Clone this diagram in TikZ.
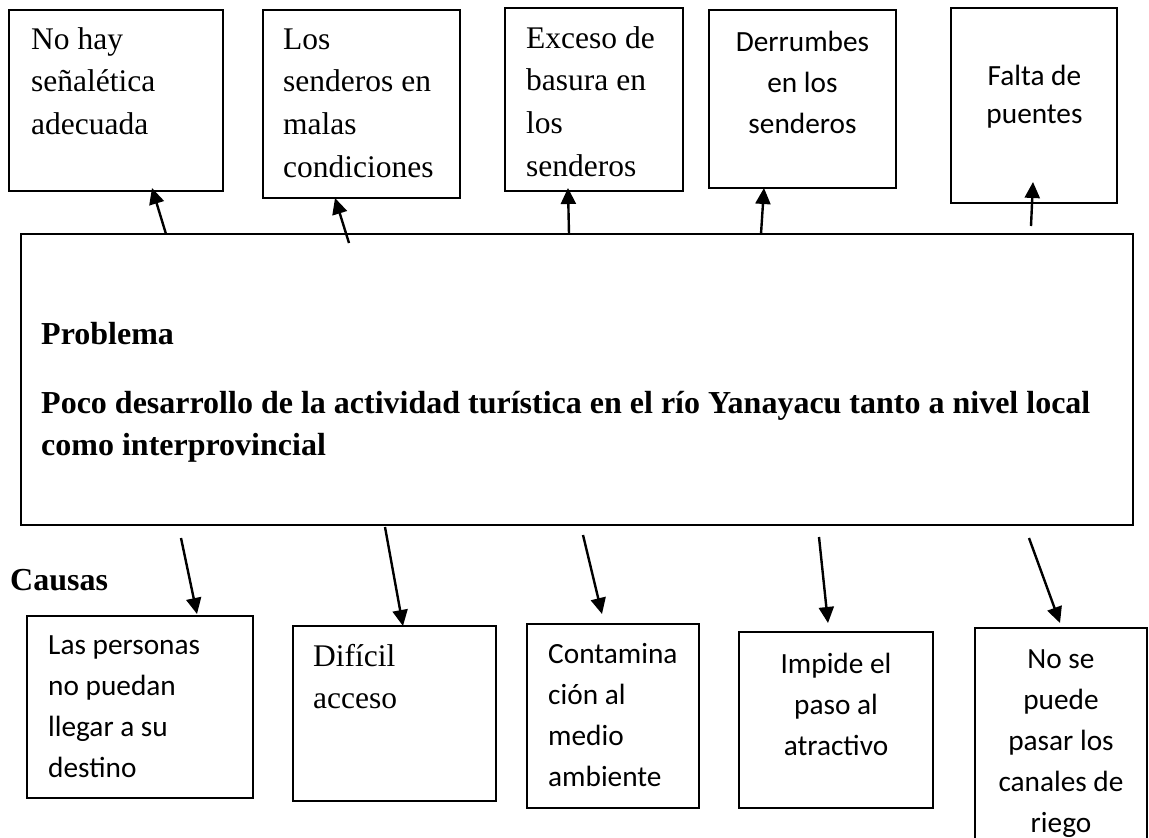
\documentclass[tikz,border=0pt]{standalone}
\usepackage{fontspec}
\setmainfont{Liberation Serif}
\newfontfamily\calib{Carlito}
\usetikzlibrary{arrows.meta}
\begin{document}
\begin{tikzpicture}[x=1pt,y=-1pt,
  box/.style={draw, line width=2pt, inner sep=0pt, outer sep=0pt, anchor=north west},
  thickbox/.style={box, line width=2.6pt},
  arr/.style={line width=2.4pt, -{Triangle[length=16pt,width=15pt]}},
  serifL/.style={inner sep=0pt, anchor=base west, text width=#1, align=flush left, font=\fontsize{31.5}{42.7}\selectfont},
  sansL/.style={inner sep=0pt, anchor=base west, text width=#1, align=flush left, font=\calib\fontsize{29.3}{41.2}\selectfont},
  sansC/.style={inner sep=0pt, anchor=base, text width=#1, align=flush center, font=\calib\fontsize{29.3}{41.2}\selectfont},
  boldL/.style={inner sep=0pt, anchor=base west, text width=#1, align=flush left, font=\bfseries\fontsize{32}{42}\selectfont}
]
\useasboundingbox (0,0) rectangle (1149,838);
\fill[white] (0,0) rectangle (1149,838);
\clip (0,0) rectangle (1149,838);

% top boxes (effects)
\node[box, minimum width=214pt, minimum height=181pt] (t1) at (9,10) {};
\node[box, minimum width=197pt, minimum height=188pt] (t2) at (263,10) {};
\node[box, minimum width=178pt, minimum height=183pt] (t3) at (505,8) {};
\node[thickbox, minimum width=187pt, minimum height=178pt] (t4) at (709,10) {};
\node[thickbox, minimum width=166pt, minimum height=195pt] (t5) at (951,8) {};

\node[serifL=185pt] (t1txt) at (31,49) {No hay\\señalética\\adecuada};
\node[serifL=175pt] (t2txt) at (283,49) {Los\\senderos en\\malas\\condiciones};
\node[serifL=155pt] (t3txt) at (526,48) {Exceso de\\basura en\\los\\senderos};
\node[sansC=180pt] (t4txt) at (802.5,51) {Derrumbes\\en los\\senderos};
\node[sansC=160pt, font=\calib\fontsize{29.3}{38}\selectfont] (t5txt) at (1034.5,85) {Falta de\\puentes};

% main problem box
\node[thickbox, minimum width=1112pt, minimum height=291pt] (main) at (21,234) {};
\node[boldL=300pt] (probtitle) at (41,344) {Problema};
\node[boldL=1085pt] (probtxt) at (41,413) {Poco desarrollo de la actividad turística en el río Yanayacu tanto a nivel local\\como interprovincial};

% causes label
\node[boldL=150pt] (causas) at (10,590) {Causas};

% bottom boxes
\node[box, minimum width=226pt, minimum height=182pt] (b1) at (27,616) {};
\node[box, minimum width=203pt, minimum height=175pt] (b2) at (293,626) {};
\node[box, minimum width=172pt, minimum height=184pt] (b3) at (527,624) {};
\node[thickbox, minimum width=194pt, minimum height=176pt] (b4) at (739,632) {};
\node[thickbox, minimum width=172pt, minimum height=240pt] (b5) at (975,628) {};

\node[sansL=200pt] (b1txt) at (48,654) {Las personas\\no puedan\\llegar a su\\destino};
\node[serifL=170pt] (b2txt) at (313,666) {Difícil\\acceso};
\node[sansL=150pt] (b3txt) at (548,663) {Contamina\\ción al\\medio\\ambiente};
\node[sansC=180pt] (b4txt) at (836,673) {Impide el\\paso al\\atractivo};
\node[sansC=165pt] (b5txt) at (1061,668) {No se\\puede\\pasar los\\canales de\\riego};

% arrow end points
\coordinate (a1s) at (166,234); \coordinate (a1e) at (152,188);
\coordinate (a2s) at (349,243); \coordinate (a2e) at (335,198);
\coordinate (a3s) at (569,234); \coordinate (a3e) at (568,188);
\coordinate (a4s) at (761,234); \coordinate (a4e) at (764,188);
\coordinate (a5s) at (1031,226); \coordinate (a5e) at (1033,182);

\coordinate (c1s) at (181,538); \coordinate (c1e) at (197,614);
\coordinate (c2s) at (385,527); \coordinate (c2e) at (403,626);
\coordinate (c3s) at (583,535); \coordinate (c3e) at (602,614);
\coordinate (c4s) at (819,537); \coordinate (c4e) at (828,623);
\coordinate (c5s) at (1029,538); \coordinate (c5e) at (1060,623);

\draw[arr] (a1s) -- (a1e);
\draw[arr] (a2s) -- (a2e);
\draw[arr] (a3s) -- (a3e);
\draw[arr] (a4s) -- (a4e);
\draw[arr] (a5s) -- (a5e);
\draw[arr] (c1s) -- (c1e);
\draw[arr] (c2s) -- (c2e);
\draw[arr] (c3s) -- (c3e);
\draw[arr] (c4s) -- (c4e);
\draw[arr] (c5s) -- (c5e);
\end{tikzpicture}
\end{document}
